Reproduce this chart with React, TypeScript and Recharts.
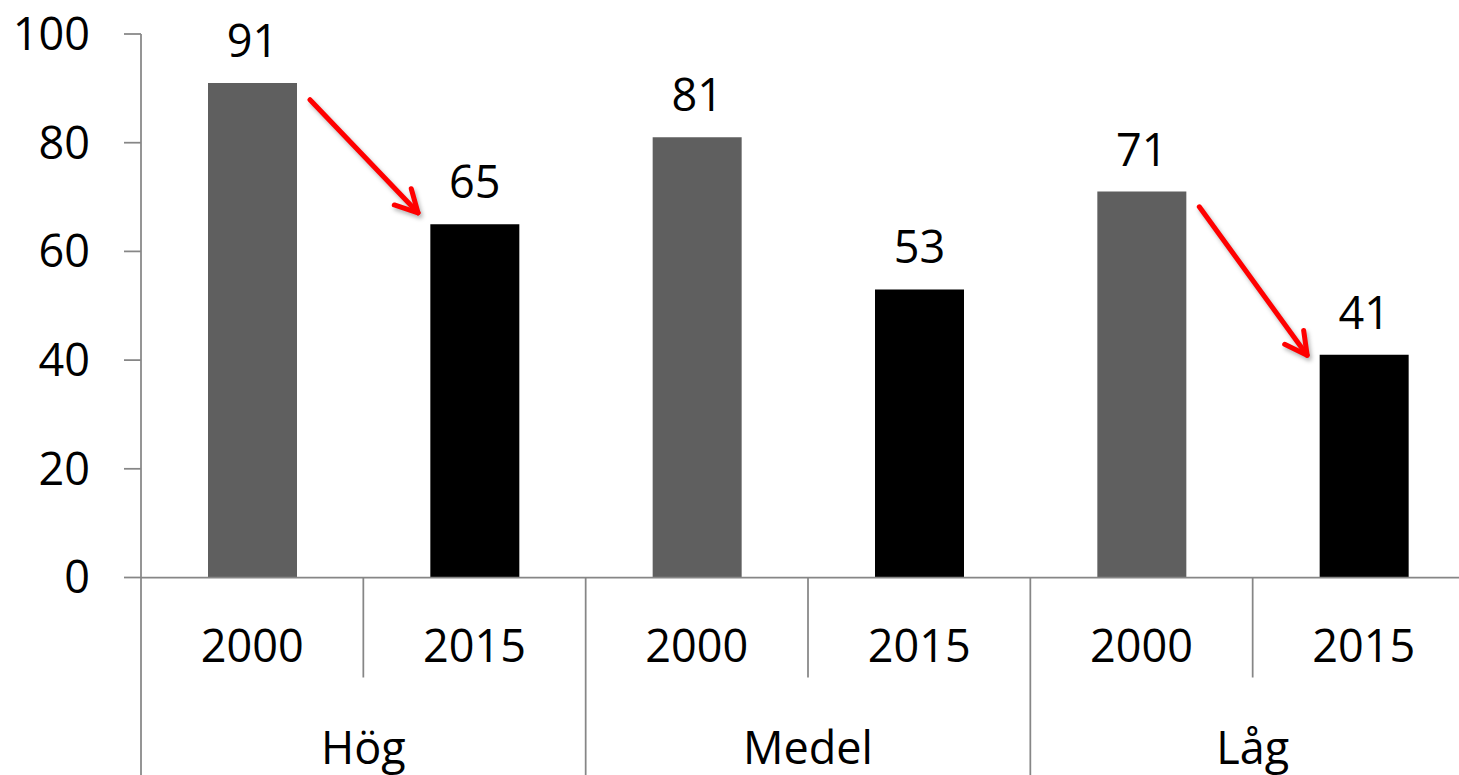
import { Bar, BarChart, Cell, LabelList, ReferenceLine, XAxis, YAxis } from "recharts";

const groups = ["Hög", "Medel", "Låg"];
const years = ["2000", "2015", "2000", "2015", "2000", "2015"];
const values = [91, 65, 81, 53, 71, 41];
const yTicks = [0, 20, 40, 60, 80, 100];

// red arrows, in (category slot, value) units
const arrowStarts = [
  { x: 0.76, y: 87.9 },
  { x: 4.76, y: 68.2 },
];
const arrowEnds = [
  { x: 1.246, y: 67.1 },
  { x: 5.245, y: 40.9 },
];

const FONT = '"Open Sans", sans-serif';
const AXIS = "#868686";
const yearColors: Record<string, string> = { "2000": "#5f5f5f", "2015": "#000000" };

const data = years.map((year, i) => ({
  name: `${groups[Math.floor(i / 2)]} ${year}`,
  year,
  value: values[i],
  slot: i + 0.5,
}));

// boundaries between categories (0..6); odd ones sit under each group's centre
const boundaryTicks = [...years.map((_, i) => i), years.length];

function YearTick({ x, y, payload }: any) {
  return (
    <text x={x} y={y + 84} textAnchor="middle" fontFamily={FONT} fontSize={45} fill="#000">
      {payload.value}
    </text>
  );
}

function GroupTick({ x, y, payload }: any) {
  const v = payload.value as number;
  const groupEdge = v % 2 === 0;
  return (
    <g>
      <line x1={x} x2={x} y1={y - 100} y2={groupEdge ? y + 100 : y} stroke={AXIS} strokeWidth={1.75} />
      {!groupEdge && (
        <text x={x} y={y + 86} textAnchor="middle" fontFamily={FONT} fontSize={45} fill="#000">
          {groups[(v - 1) / 2]}
        </text>
      )}
    </g>
  );
}

function ArrowShape({ x1, y1, x2, y2 }: any) {
  const ang = Math.atan2(y2 - y1, x2 - x1);
  const len = 25;
  const spread = (28 * Math.PI) / 180;
  const a = [x2 - len * Math.cos(ang - spread), y2 - len * Math.sin(ang - spread)];
  const b = [x2 - len * Math.cos(ang + spread), y2 - len * Math.sin(ang + spread)];
  return (
    <g style={{ filter: "drop-shadow(2px 3px 2px rgba(0,0,0,0.3))" }}>
      <line x1={x1} y1={y1} x2={x2} y2={y2} stroke="#ff0000" strokeWidth={5} strokeLinecap="round" />
      <polyline
        points={`${a[0]},${a[1]} ${x2},${y2} ${b[0]},${b[1]}`}
        fill="none"
        stroke="#ff0000"
        strokeWidth={5}
        strokeLinecap="round"
        strokeLinejoin="round"
      />
    </g>
  );
}

export default function App() {
  return (
    <div style={{ width: 1480, height: 775, overflow: "hidden", background: "#fff" }}>
      <style>{`body{margin:0;overflow:hidden;background:#fff}`}</style>
      <BarChart width={1480} height={775} data={data} margin={{ top: 34, right: 5, left: 0, bottom: 0 }}>
        {/* inner axis: years */}
        <XAxis
          xAxisId="a"
          dataKey="year"
          height={100}
          interval={0}
          tickSize={0}
          tickMargin={0}
          tickLine={false}
          axisLine={{ stroke: AXIS, strokeWidth: 1.75 }}
          tick={<YearTick />}
        />
        {/* outer axis: group names + separators */}
        <XAxis
          xAxisId="b"
          dataKey="slot"
          type="number"
          domain={[0, years.length]}
          allowDataOverflow
          ticks={boundaryTicks}
          height={97.5}
          interval={0}
          tickSize={0}
          tickMargin={0}
          tickLine={false}
          axisLine={false}
          tick={<GroupTick />}
        />
        <YAxis
          width={141}
          domain={[0, 100]}
          ticks={yTicks}
          interval={0}
          tickSize={17}
          tickMargin={34}
          tickLine={{ stroke: AXIS, strokeWidth: 1.75 }}
          axisLine={{ stroke: AXIS, strokeWidth: 1.75 }}
          tick={{ fontSize: 45, fill: "#000", fontFamily: FONT }}
        />
        <Bar xAxisId="a" dataKey="value" barSize={89} isAnimationActive={false}>
          {data.map((d) => (
            <Cell key={d.name} fill={yearColors[d.year]} />
          ))}
          <LabelList dataKey="value" position="top" offset={26} fontSize={45} fill="#000" fontFamily={FONT} />
        </Bar>
        {arrowStarts.map((s, i) => (
          <ReferenceLine
            key={i}
            xAxisId="b"
            ifOverflow="visible"
            segment={[s, arrowEnds[i]]}
            shape={(p: any) => <ArrowShape {...p} />}
          />
        ))}
      </BarChart>
    </div>
  );
}
